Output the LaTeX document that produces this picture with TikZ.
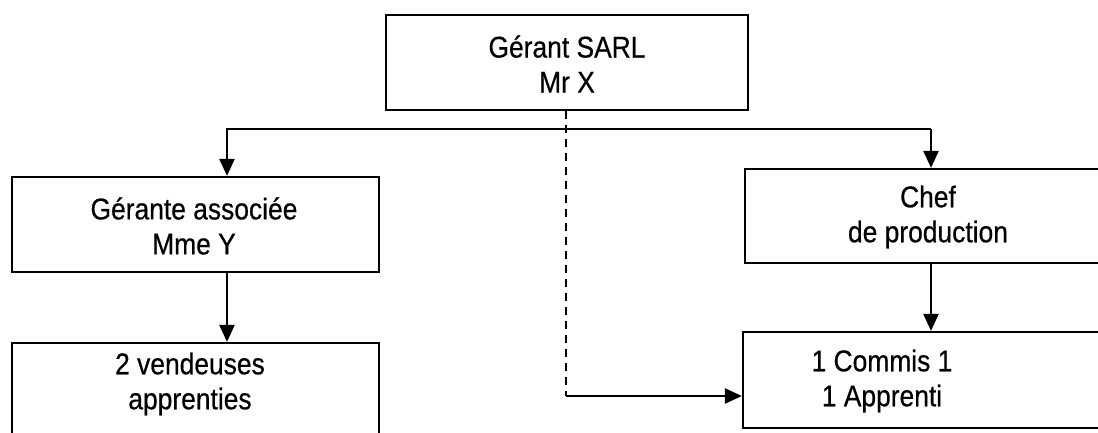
\documentclass[tikz,border=0pt]{standalone}
\usepackage{fontspec}
\setmainfont{Liberation Sans}[FakeStretch=0.88,FakeBold=0.5]
\usetikzlibrary{arrows.meta}
\begin{document}
\begin{tikzpicture}[x=1pt,y=-1pt,
  orgbox/.style={draw=black, line width=2.2pt, rectangle, inner sep=0pt},
  orgtext/.style={align=center, font=\fontsize{30}{35}\selectfont, inner sep=0pt},
  conn/.style={line width=2.4pt, draw=black},
  arr/.style={conn, -{Triangle[width=15pt,length=17pt]}},
  dashconn/.style={conn, line width=2pt, dash pattern=on 8pt off 6pt}]
\useasboundingbox (0,0) rectangle (1098,433);
\clip (0,0) rectangle (1098,433);
% boxes
\node[orgbox, minimum width=362pt, minimum height=95pt] (top) at (567,62.5) {};
\node[orgtext] (toptext) at (567,64) {Gérant SARL\\Mr X};
\node[orgbox, minimum width=367pt, minimum height=95pt] (gerante) at (195.5,224.5) {};
\node[orgtext] (geranttext) at (194,226) {Gérante associée\\Mme Y};
\node[orgbox, minimum width=367pt, minimum height=100pt] (vend) at (195.5,393) {};
\node[orgtext] (vendtext) at (190,384) {2 vendeuses\\apprenties};
\node[orgbox, minimum width=372pt, minimum height=94pt] (chef) at (931,216) {};
\node[orgtext] (cheftext) at (928,217) {Chef\\de production};
\node[orgbox, minimum width=372pt, minimum height=96pt] (commis) at (929,380) {};
\node[orgtext] (commistext) at (882,381) {1 Commis 1\\1 Apprenti};
% connectors
\coordinate (hl) at (227,129);
\coordinate (hr) at (931,129);
\draw[arr] (hr) -- (hl) -- (hl |- gerante.north);
\draw[arr] (hr) -- (hr |- chef.north);
\draw[arr] (gerante.south -| hl) -- (vend.north -| hl);
\draw[arr] (chef.south -| hr) -- (commis.north -| hr);
\coordinate (dc) at (566,396);
\draw[dashconn] (top.south -| dc) -- (dc);
\draw[arr] (dc) -- (commis.west |- dc);
\end{tikzpicture}
\end{document}
